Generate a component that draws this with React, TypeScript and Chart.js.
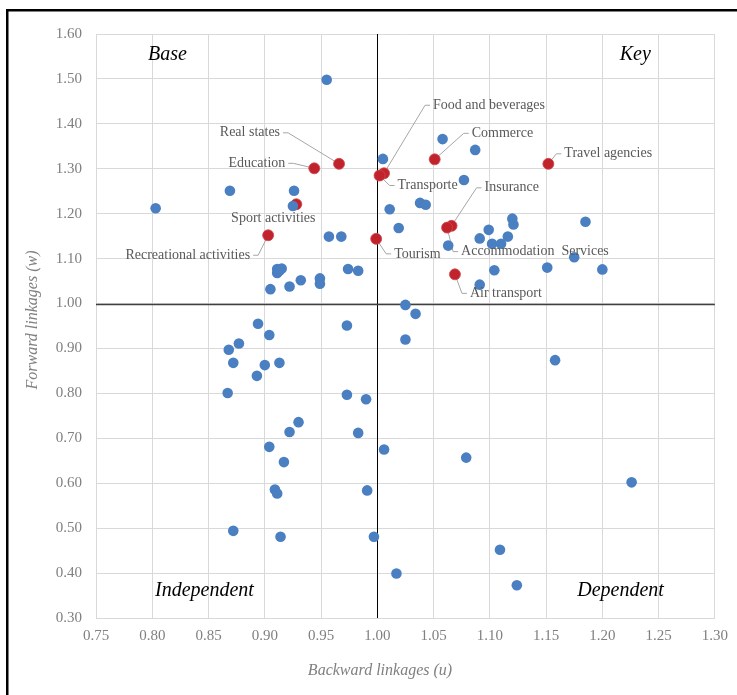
import { useEffect, useRef } from 'react';
import { Chart, registerables } from 'chart.js';

Chart.register(...registerables);

// ---- Data ----
const blueX = [
  0.955, 0.803, 0.869, 0.926, 0.925, 0.957, 0.968, 0.911, 0.915, 0.911, 0.913,
  0.905, 0.922, 0.932, 0.949, 0.949, 0.974, 0.983, 1.005, 1.058, 1.087, 1.077,
  1.011, 1.038, 1.043, 1.019, 1.063, 1.091, 1.099, 1.102, 1.110, 1.116, 1.120,
  1.121, 1.185, 1.175, 1.151, 1.200, 1.104, 1.091, 1.025, 1.034, 0.894, 0.973,
  0.904, 0.868, 0.877, 0.872, 0.913, 0.900, 0.893, 0.867, 0.973, 0.990, 0.930,
  0.922, 0.983, 0.904, 0.917, 0.909, 0.911, 0.991, 0.872, 0.914, 1.025, 1.158,
  1.006, 1.079, 1.226, 0.997, 1.109, 1.017, 1.124,
];
const blueY = [
  1.498, 1.212, 1.251, 1.251, 1.217, 1.149, 1.149, 1.077, 1.078, 1.068, 1.073,
  1.032, 1.038, 1.052, 1.056, 1.044, 1.077, 1.073, 1.322, 1.366, 1.342, 1.275,
  1.210, 1.224, 1.220, 1.168, 1.129, 1.145, 1.164, 1.133, 1.133, 1.149, 1.189,
  1.176, 1.182, 1.103, 1.080, 1.076, 1.074, 1.042, 0.997, 0.977, 0.955, 0.951,
  0.930, 0.897, 0.911, 0.868, 0.868, 0.863, 0.839, 0.801, 0.797, 0.787, 0.736,
  0.714, 0.712, 0.681, 0.647, 0.586, 0.577, 0.584, 0.494, 0.481, 0.920, 0.874,
  0.675, 0.657, 0.602, 0.481, 0.452, 0.399, 0.373,
];

const redLabels = [
  'Real states', 'Education', 'Sport activities', 'Recreational activities',
  'Food and beverages', 'Transporte', 'Commerce', 'Travel agencies',
  'Insurance', 'Accommodation  Services', 'Tourism', 'Air transport',
];
const redX = [0.966, 0.944, 0.928, 0.903, 1.006, 1.002, 1.051, 1.152, 1.066, 1.062, 0.999, 1.069];
const redY = [1.311, 1.301, 1.221, 1.152, 1.290, 1.285, 1.321, 1.311, 1.173, 1.169, 1.144, 1.065];

const quadrantLabels = ['Base', 'Key', 'Independent', 'Dependent'];
const xAxisTitle = 'Backward linkages (u)';
const yAxisTitle = 'Forward linkages (w)';

// ---- Label layout (pixel offsets from the point) ----
const labelLayout = [
  { dx: -59, dy: -31, align: 'right', leader: true },
  { dx: -29, dy: -5, align: 'right', leader: true },
  { dx: -23, dy: 14, align: 'center', leader: false },
  { dx: -18, dy: 20, align: 'right', leader: true },
  { dx: 49, dy: -68, align: 'left', leader: true },
  { dx: 18, dy: 10, align: 'left', leader: true },
  { dx: 37, dy: -26, align: 'left', leader: true },
  { dx: 16, dy: -10, align: 'left', leader: true },
  { dx: 33, dy: -38, align: 'left', leader: true },
  { dx: 14, dy: 24, align: 'left', leader: true },
  { dx: 18, dy: 15, align: 'left', leader: true },
  { dx: 15, dy: 19, align: 'left', leader: true },
];

const SERIF = '"Liberation Serif", "Times New Roman", serif';

const overlayPlugin = {
  id: 'overlay',
  beforeDatasetsDraw(chart: any) {
    const { ctx, chartArea, scales } = chart;
    const xs = scales.x;
    const ys = scales.y;
    ctx.save();
    // quadrant lines
    const x1 = Math.round(xs.getPixelForValue(1)) + 0.5;
    const y1 = Math.round(ys.getPixelForValue(1)) + 0.5;
    ctx.strokeStyle = '#000';
    ctx.lineWidth = 1;
    ctx.beginPath();
    ctx.moveTo(x1, chartArea.top);
    ctx.lineTo(x1, chartArea.bottom);
    ctx.stroke();
    ctx.strokeStyle = '#404040';
    ctx.lineWidth = 1.3;
    ctx.beginPath();
    ctx.moveTo(chartArea.left, y1);
    ctx.lineTo(chartArea.right, y1);
    ctx.stroke();

    // leader lines
    const meta = chart.getDatasetMeta(1);
    ctx.font = `14px ${SERIF}`;
    ctx.strokeStyle = '#a6a6a6';
    ctx.lineWidth = 1;
    meta.data.forEach((p: any, i: number) => {
      const l = labelLayout[i];
      if (!l || !l.leader) return;
      const lx = p.x + l.dx;
      const ly = p.y + l.dy;
      const dir = l.align === 'right' ? 1 : -1;
      ctx.beginPath();
      ctx.moveTo(lx + dir * 3, ly);
      ctx.lineTo(lx + dir * 8, ly);
      ctx.lineTo(p.x, p.y);
      ctx.stroke();
    });
    ctx.restore();
  },
  afterDraw(chart: any) {
    const { ctx, chartArea } = chart;
    ctx.save();
    // point labels
    const meta = chart.getDatasetMeta(1);
    ctx.font = `14px ${SERIF}`;
    ctx.fillStyle = '#595959';
    ctx.textBaseline = 'middle';
    meta.data.forEach((p: any, i: number) => {
      const l = labelLayout[i];
      ctx.textAlign = l.align;
      ctx.fillText(redLabels[i], p.x + l.dx, p.y + l.dy);
    });

    // quadrant labels
    ctx.font = `italic 20px ${SERIF}`;
    ctx.fillStyle = '#000';
    ctx.textAlign = 'left';
    ctx.fillText(quadrantLabels[0], chartArea.left + 52, chartArea.top + 21);
    ctx.textAlign = 'right';
    ctx.fillText(quadrantLabels[1], chartArea.right - 64, chartArea.top + 21);
    ctx.textAlign = 'left';
    ctx.fillText(quadrantLabels[2], chartArea.left + 59, chartArea.bottom - 27);
    ctx.textAlign = 'right';
    ctx.fillText(quadrantLabels[3], chartArea.right - 51, chartArea.bottom - 27);

    // axis titles
    ctx.font = `italic 16px ${SERIF}`;
    ctx.fillStyle = '#808080';
    ctx.textAlign = 'center';
    ctx.fillText(xAxisTitle, 380, 671);
    ctx.translate(33, 320);
    ctx.rotate(-Math.PI / 2);
    ctx.fillText(yAxisTitle, 0, 0);
    ctx.restore();

    // outer frame
    ctx.save();
    ctx.fillStyle = '#000';
    ctx.fillRect(6, 9, 2.5, 700);
    ctx.fillRect(6, 9, 740, 2.5);
    ctx.restore();
  },
};

export default function App() {
  const ref = useRef<HTMLCanvasElement>(null);
  useEffect(() => {
    if (!ref.current) return;
    const blue = blueX.map((x, i) => ({ x, y: blueY[i] }));
    const red = redX.map((x, i) => ({ x, y: redY[i] }));
    const chart = new Chart(ref.current, {
      type: 'scatter',
      data: {
        datasets: [
          { data: blue, backgroundColor: '#4a7fc1', borderWidth: 0, pointRadius: 5.3 },
          { data: red, backgroundColor: '#c0232b', borderColor: '#d0464c', borderWidth: 0.8, pointRadius: 5.5 },
        ],
      },
      options: {
        responsive: false,
        animation: false,
        events: [],
        layout: { padding: { top: 34, right: 21, left: 0, bottom: 0 } },
        plugins: { legend: { display: false }, tooltip: { enabled: false } },
        scales: {
          x: {
            type: 'linear',
            min: 0.75,
            max: 1.3,
            afterFit: (s: any) => { s.height = 77; },
            ticks: {
              stepSize: 0.05,
              callback: (v: any) => Number(v).toFixed(2),
              font: { family: SERIF, size: 15 },
              color: '#808080',
              padding: 9,
            },
            grid: { color: '#d9d9d9', drawTicks: false, lineWidth: 1 },
            border: { display: true, color: '#d9d9d9' },
          },
          y: {
            type: 'linear',
            min: 0.3,
            max: 1.6,
            afterFit: (s: any) => { s.width = 96; },
            ticks: {
              stepSize: 0.1,
              callback: (v: any) => Number(v).toFixed(2),
              font: { family: SERIF, size: 15 },
              color: '#808080',
              padding: 14,
            },
            grid: { color: '#d9d9d9', drawTicks: false, lineWidth: 1 },
            border: { display: true, color: '#d9d9d9' },
          },
        },
      },
      plugins: [overlayPlugin],
    });
    return () => chart.destroy();
  }, []);
  return (
    <div style={{ position: 'absolute', left: 0, top: 0, width: 737, height: 695, overflow: 'hidden', background: '#fff' }}>
      <canvas ref={ref} width={737} height={695} style={{ display: 'block' }} />
    </div>
  );
}
